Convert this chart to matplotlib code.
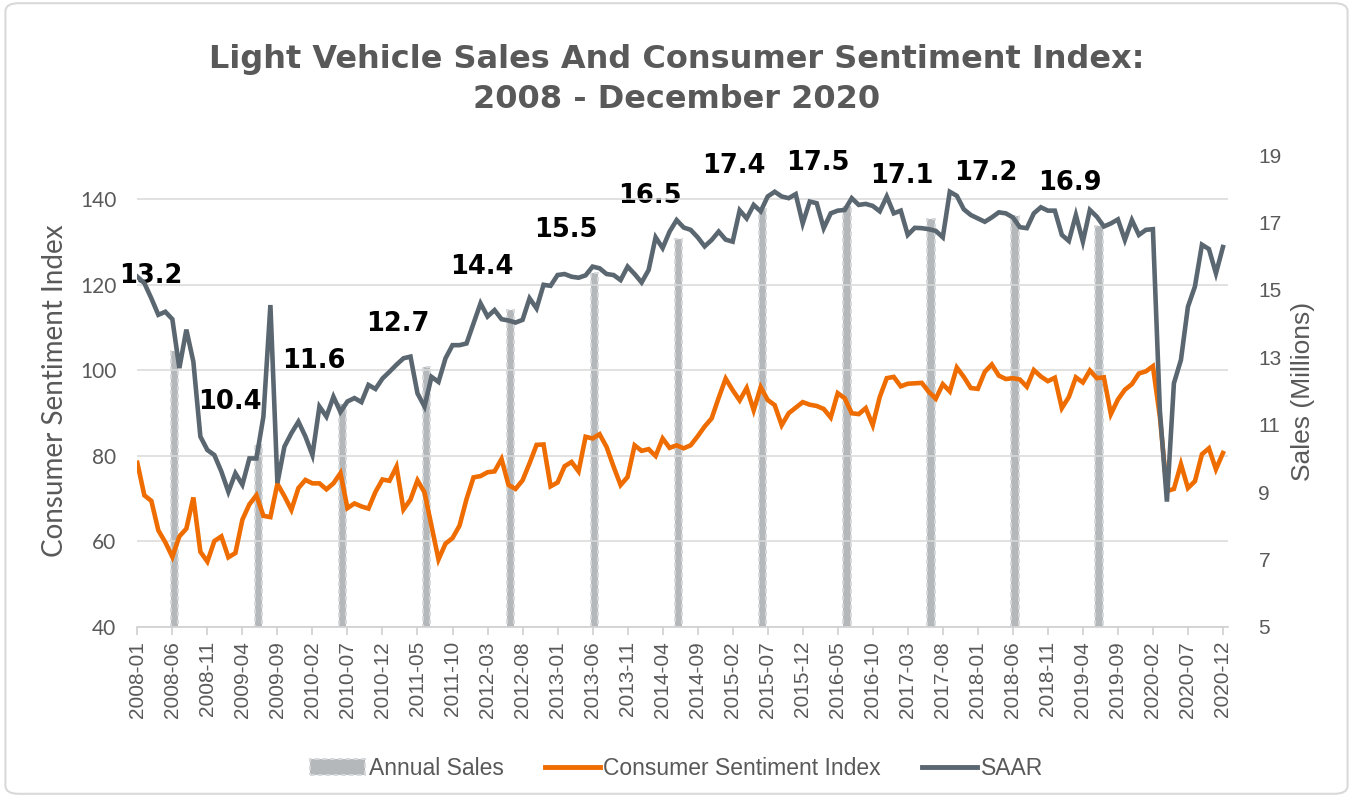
import matplotlib.pyplot as plt
from matplotlib.patches import Patch, FancyBboxPatch
from matplotlib.lines import Line2D
import pandas as pd

OUTPUT_PNG = "out.png"

months = pd.date_range("2008-01-01", "2020-12-01", freq="MS").strftime("%Y-%m").tolist()

# University of Michigan consumer sentiment, monthly (left axis)
csi = [
    78.4, 70.8, 69.5, 62.6, 59.8, 56.4, 61.2, 63.0, 70.3, 57.6, 55.3, 60.1,
    61.2, 56.3, 57.3, 65.1, 68.7, 70.8, 66.0, 65.7, 73.5, 70.6, 67.4, 72.5,
    74.4, 73.6, 73.6, 72.2, 73.6, 76.0, 67.8, 68.9, 68.2, 67.7, 71.6, 74.5,
    74.2, 77.5, 67.5, 69.8, 74.3, 71.5, 63.7, 55.8, 59.5, 60.8, 63.7, 69.9,
    75.0, 75.3, 76.2, 76.4, 79.3, 73.2, 72.3, 74.3, 78.3, 82.6, 82.7, 72.9,
    73.8, 77.6, 78.6, 76.4, 84.5, 84.1, 85.1, 82.1, 77.5, 73.2, 75.1, 82.5,
    81.2, 81.6, 80.0, 84.1, 81.9, 82.5, 81.8, 82.5, 84.6, 86.9, 88.8, 93.6,
    98.1, 95.4, 93.0, 95.9, 90.7, 96.1, 93.1, 91.9, 87.2, 90.0, 91.3, 92.6,
    92.0, 91.7, 91.0, 89.0, 94.7, 93.5, 90.0, 89.8, 91.2, 87.2, 93.8, 98.2,
    98.5, 96.3, 96.9, 97.0, 97.1, 95.0, 93.4, 96.8, 95.1, 100.7, 98.5, 95.9,
    95.7, 99.7, 101.4, 98.8, 98.0, 98.2, 97.9, 96.2, 100.1, 98.6, 97.5, 98.3,
    91.2, 93.8, 98.4, 97.2, 100.0, 98.2, 98.4, 89.8, 93.2, 95.5, 96.8, 99.3,
    99.8, 101.0, 89.1, 71.8, 72.3, 78.1, 72.5, 74.1, 80.4, 81.8, 76.9, 80.7,
]

# light vehicle SAAR, millions (right axis)
saar = [
    15.39, 15.20, 14.75, 14.26, 14.35, 14.13, 12.68, 13.82, 12.87, 10.65, 10.25, 10.10,
    9.61, 9.01, 9.56, 9.22, 10.00, 10.00, 11.24, 14.55, 9.27, 10.35, 10.75, 11.09,
    10.65, 10.10, 11.54, 11.24, 11.83, 11.38, 11.69, 11.79, 11.67, 12.18, 12.06, 12.37,
    12.57, 12.78, 12.97, 13.02, 11.93, 11.54, 12.42, 12.27, 12.97, 13.36, 13.36, 13.41,
    14.01, 14.60, 14.21, 14.40, 14.13, 14.09, 14.03, 14.11, 14.75, 14.45, 15.15, 15.12,
    15.44, 15.47, 15.39, 15.36, 15.43, 15.69, 15.64, 15.47, 15.44, 15.29, 15.69, 15.47,
    15.22, 15.59, 16.56, 16.24, 16.73, 17.07, 16.85, 16.78, 16.56, 16.29, 16.48, 16.73,
    16.49, 16.43, 17.36, 17.12, 17.52, 17.33, 17.77, 17.91, 17.77, 17.72, 17.84, 16.97,
    17.62, 17.57, 16.83, 17.27, 17.35, 17.37, 17.72, 17.52, 17.55, 17.49, 17.33, 17.77,
    17.27, 17.35, 16.63, 16.84, 16.83, 16.80, 16.75, 16.56, 17.91, 17.79, 17.39, 17.22,
    17.12, 17.02, 17.15, 17.30, 17.27, 17.15, 16.86, 16.83, 17.27, 17.45, 17.35, 17.35,
    16.63, 16.45, 17.22, 16.43, 17.37, 17.17, 16.88, 16.97, 17.09, 16.48, 17.07, 16.63,
    16.78, 16.80, 11.40, 8.72, 12.23, 12.92, 14.50, 15.10, 16.34, 16.21, 15.49, 16.27,
]

annual_months = ["2008-06", "2009-06", "2010-06", "2011-06", "2012-06", "2013-06",
                 "2014-06", "2015-06", "2016-06", "2017-06", "2018-06", "2019-06"]
annual_sales = [13.2, 10.4, 11.6, 12.7, 14.4, 15.5, 16.5, 17.4, 17.5, 17.1, 17.2, 16.9]

tick_labels = months[::5]

ORANGE = "#ee6c00"
SLATE = "#5a6670"
BAR = "#b4b8bb"
BAR_EDGE = "#d6d9db"
TXT = "#595959"
HEAVY = ["DejaVu Sans"]
SOFT = ["Lato", "DejaVu Sans"]
PLAIN = ["Liberation Sans", "DejaVu Sans"]


def plot():
    fig = plt.figure(figsize=(13.53, 7.97), dpi=100)
    fig.patches.append(FancyBboxPatch((0.004, 0.004), 0.992, 0.992,
                                      boxstyle="round,pad=0,rounding_size=0.01",
                                      transform=fig.transFigure, facecolor="none",
                                      edgecolor="#d9d9d9", linewidth=1.5))

    rect = [0.1015, 0.2133, 0.806, 0.5922]
    axb = fig.add_axes(rect)             # annual sales bars (right scale, bottom layer)
    ax = fig.add_axes(rect, sharex=axb)  # consumer sentiment (left scale)
    ax2 = fig.add_axes(rect, sharex=axb)  # SAAR (right scale, top layer)
    for a in (ax, ax2):
        a.patch.set_visible(False)

    x = list(range(len(months)))
    bar_x = [months.index(m) + 0.3 for m in annual_months]

    axb.bar(bar_x, annual_sales, width=1.05, color=BAR, edgecolor=BAR_EDGE,
            linestyle=(0, (2.5, 1.5)), linewidth=1.4, zorder=1)
    axb.set_ylim(5, 19)
    axb.axis("off")

    for m, v in zip(annual_months, annual_sales):
        off = (-22, 75) if m == "2008-06" else (-27, 43)
        axb.annotate(f"{v}", xy=(months.index(m), v), xytext=off,
                     textcoords="offset pixels", ha="center", va="center",
                     fontsize=18.5, fontweight="bold", family=HEAVY, color="black",
                     zorder=5, annotation_clip=False)

    ax.plot(x, csi, color=ORANGE, linewidth=3.3, solid_joinstyle="miter", zorder=3)
    ax.set_ylim(40, 150.4)
    ax.set_yticks([40, 60, 80, 100, 120, 140])
    ax.grid(axis="y", color="#d9d9d9", linewidth=1.1, zorder=0)
    ax.set_axisbelow(True)
    ax.set_ylabel("Consumer Sentiment Index", fontsize=20, color=TXT,
                  family=SOFT, labelpad=9)
    ax.tick_params(axis="y", length=0, labelsize=15, labelcolor=TXT, pad=15)
    for lbl in ax.get_yticklabels():
        lbl.set_family(SOFT)

    ax2.plot(x, saar, color=SLATE, linewidth=3.3, solid_joinstyle="miter", zorder=4)
    ax2.set_ylim(5, 19)
    ax2.set_yticks(range(5, 20, 2))
    ax2.yaxis.tick_right()
    ax2.yaxis.set_label_position("right")
    ax2.set_ylabel("Sales (Millions)", fontsize=19, color=TXT, family=PLAIN, labelpad=7)
    ax2.tick_params(axis="y", length=0, labelsize=15, labelcolor=TXT, pad=22)
    for lbl in ax2.get_yticklabels():
        lbl.set_family(PLAIN)

    ax.set_xlim(0, len(months) - 0.3)
    ax.set_xticks(range(0, len(months), 5))
    ax.set_xticklabels(tick_labels, rotation=90, fontsize=15, color=TXT, family=PLAIN)
    ax.tick_params(axis="x", length=6, color="#d0d0d0", width=1.2, pad=4)
    ax2.tick_params(axis="x", labelbottom=False, length=0)

    for a in (ax, ax2):
        for s in a.spines.values():
            s.set_visible(False)
    ax.spines["bottom"].set_visible(True)
    ax.spines["bottom"].set_color("#d0d0d0")
    ax.spines["bottom"].set_linewidth(1.2)

    fig.text(0.5, 0.9, "Light Vehicle Sales And Consumer Sentiment Index:\n2008 - December 2020",
             ha="center", va="center", fontsize=23, fontweight="bold", family=HEAVY,
             color=TXT, linespacing=1.35)

    handles = [
        Patch(facecolor=BAR, edgecolor=BAR_EDGE, linestyle=(0, (2.5, 1.5)), linewidth=1.4),
        Line2D([], [], color=ORANGE, linewidth=3.5),
        Line2D([], [], color=SLATE, linewidth=3.5),
    ]
    fig.legend(handles, ["Annual Sales", "Consumer Sentiment Index", "SAAR"],
               loc="center", bbox_to_anchor=(0.5, 0.036), ncol=3, frameon=False,
               prop={"family": PLAIN, "size": 16.5},
               labelcolor=TXT, handlelength=2.4, handletextpad=0.15,
               columnspacing=1.8)

    fig.savefig(OUTPUT_PNG, dpi=100)
    plt.close(fig)


if __name__ == "__main__":
    plot()
